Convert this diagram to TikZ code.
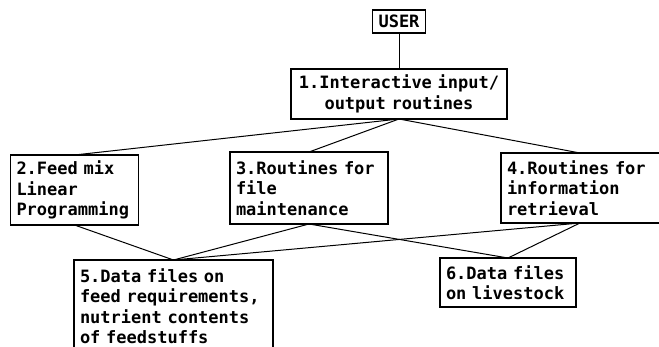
\documentclass[tikz,border=0pt]{standalone}
\usepackage{fontspec}
\newfontfamily\dotfont{DejaVu Sans Mono}
\usetikzlibrary{positioning}

\begin{document}
\begin{tikzpicture}[x=1pt,y=-1pt,base/.style={draw,line width=1.2pt,font=\dotfont\bfseries\fontsize{17}{20.5}\selectfont,inner xsep=6pt,inner ysep=0pt,outer sep=0pt,align=left},link/.style={line width=1pt}]
        \useasboundingbox (0,0) rectangle (659,347);
        \clip (0,0) rectangle (659,347);
        %
        \node[base,minimum height=23pt,anchor=north](user) at (399,10){USER};
        \node[base,below=36pt of user,text width=204pt,align=center,minimum height=50pt](io){1.Interactive input/\\output routines};
        %
        \node[base,anchor=north west,text width=116pt,minimum height=70pt](lp) at (10.5,155){2.Feed mix\\Linear\\Programming};
        \node[base,anchor=north west,text width=146pt,minimum height=72pt](fm) at (230,152){3.Routines for\\file\\maintenance};
        \node[base,anchor=north west,text width=150pt,minimum height=70pt](ir) at (501,153){4.Routines for\\information\\retrieval};
        %
        \node[base,anchor=north west,text width=187pt,minimum height=92pt](df) at (74,260){5.Data files on\\feed requirements,\\nutrient contents\\of feedstuffs};
        \node[base,anchor=north west,text width=124pt,minimum height=49pt](dl) at (440,258){6.Data files\\on livestock};
        %
        \draw[link] (user) -- (io);
        \draw[link] (io.south) -- (lp.north);
        \draw[link] (io.south) -- (fm.north);
        \draw[link] (io.south) -- ([xshift=-2pt]ir.north);
        %
        \draw[link] (lp.south) -- (df.north);
        \draw[link] (fm.south) -- (df.north);
        \draw[link] ([xshift=-2pt]ir.south) -- (df.north);
        \draw[link] (fm.south) -- (dl.north);
        \draw[link] ([xshift=-2pt]ir.south) -- (dl.north);
    \end{tikzpicture}
\end{document}
